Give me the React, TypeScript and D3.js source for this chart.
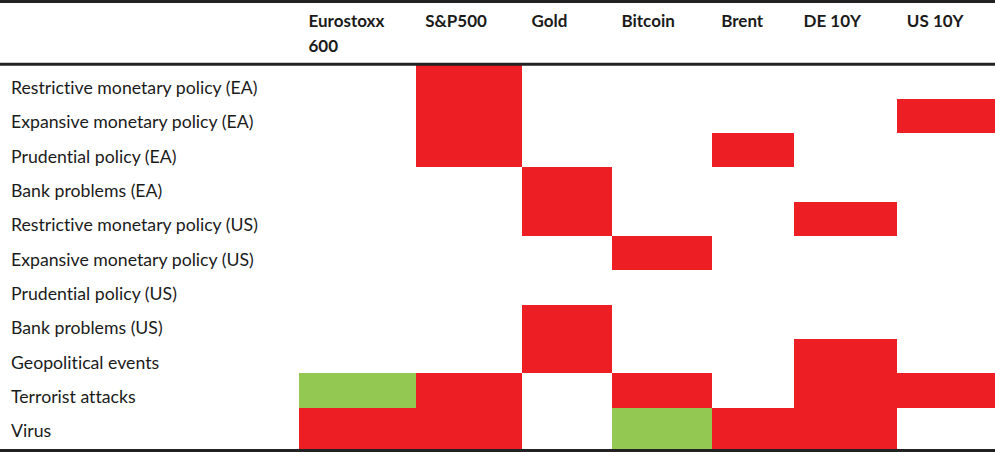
import React from "react";
import * as d3 from "d3";

// ---- data ----
const assets: string[][] = [
  ["Eurostoxx", "600"],
  ["S&P500"],
  ["Gold"],
  ["Bitcoin"],
  ["Brent"],
  ["DE 10Y"],
  ["US 10Y"],
];

const events: string[] = [
  "Restrictive monetary policy (EA)",
  "Expansive monetary policy (EA)",
  "Prudential policy (EA)",
  "Bank problems (EA)",
  "Restrictive monetary policy (US)",
  "Expansive monetary policy (US)",
  "Prudential policy (US)",
  "Bank problems (US)",
  "Geopolitical events",
  "Terrorist attacks",
  "Virus",
];

// 0 = no significant effect, 1 = red, 2 = green
// columns: Eurostoxx 600, S&P500, Gold, Bitcoin, Brent, DE 10Y, US 10Y
const effects: number[][] = [
  [0, 1, 0, 0, 0, 0, 0],
  [0, 1, 0, 0, 0, 0, 1],
  [0, 1, 0, 0, 1, 0, 0],
  [0, 0, 1, 0, 0, 0, 0],
  [0, 0, 1, 0, 0, 1, 0],
  [0, 0, 0, 1, 0, 0, 0],
  [0, 0, 0, 0, 0, 0, 0],
  [0, 0, 1, 0, 0, 0, 0],
  [0, 0, 1, 0, 0, 1, 0],
  [2, 1, 0, 1, 0, 1, 1],
  [1, 1, 0, 2, 1, 1, 0],
];

// ---- layout / style ----
const W = 995;
const H = 452;
const colWeights = [116.7, 106.3, 90, 99.7, 82.3, 103.3, 97.7];
const tableLeft = 299;
const headerLine = 64.2;
const rowsTop = 64.4;
const rowsBottom = 442;
const bottomLine = 450.5;
const colors: Record<number, string> = { 1: "#ED1F25", 2: "#93C853" };
const textColor = "#1b1b1b";
const lineColor = "#222222";
const font = "Lato, 'Open Sans', sans-serif";

export default function App() {
  const edges = [tableLeft, ...Array.from(d3.cumsum(colWeights), (v) => tableLeft + v)];
  const colIdx = d3.range(assets.length);
  const x = d3.scaleOrdinal<number, number>().domain(colIdx).range(edges.slice(0, -1));
  const colW = (i: number) => edges[i + 1] - edges[i];

  const y = d3.scaleBand<string>().domain(events).range([rowsTop, rowsBottom]).padding(0);
  const bw = y.bandwidth();

  const cells: { r: number; c: number; v: number }[] = [];
  effects.forEach((row, r) => row.forEach((v, c) => { if (v) cells.push({ r, c, v }); }));

  return (
    <svg width={W} height={H} style={{ position: "absolute", left: 0, top: 0, display: "block", background: "#fff", fontVariantLigatures: "none" }}>
      <rect x={0} y={0} width={W} height={H} fill="#fff" />
      <g shapeRendering="crispEdges">
        {cells.map(({ r, c, v }) => {
          const y0 = y(events[r])!;
          const y1 = r === events.length - 1 ? bottomLine - 1.5 : y0 + bw;
          return (
            <rect key={`${r}-${c}`} x={x(c)} y={y0} width={colW(c)} height={y1 - y0} fill={colors[v]} />
          );
        })}
      </g>
      {events.map((e) => (
        <text key={e} x={11} y={y(e)! + 29.7} fontFamily={font} fontSize={17.7} fill={textColor}>
          {e}
        </text>
      ))}
      {assets.map((lines, i) => (
        <text key={i} x={x(i) + 9.5} y={26.7} fontFamily={font} fontWeight={700} fontSize={17} fill={textColor}>
          {lines.map((l, k) => (
            <tspan key={k} x={x(i) + 9.5} dy={k === 0 ? 0 : 25}>{l}</tspan>
          ))}
        </text>
      ))}
      <line x1={0} x2={W} y1={1.5} y2={1.5} stroke={lineColor} strokeWidth={3} />
      <line x1={0} x2={W} y1={headerLine} y2={headerLine} stroke={lineColor} strokeWidth={3} />
      <line x1={0} x2={W} y1={bottomLine} y2={bottomLine} stroke={lineColor} strokeWidth={3} />
    </svg>
  );
}
